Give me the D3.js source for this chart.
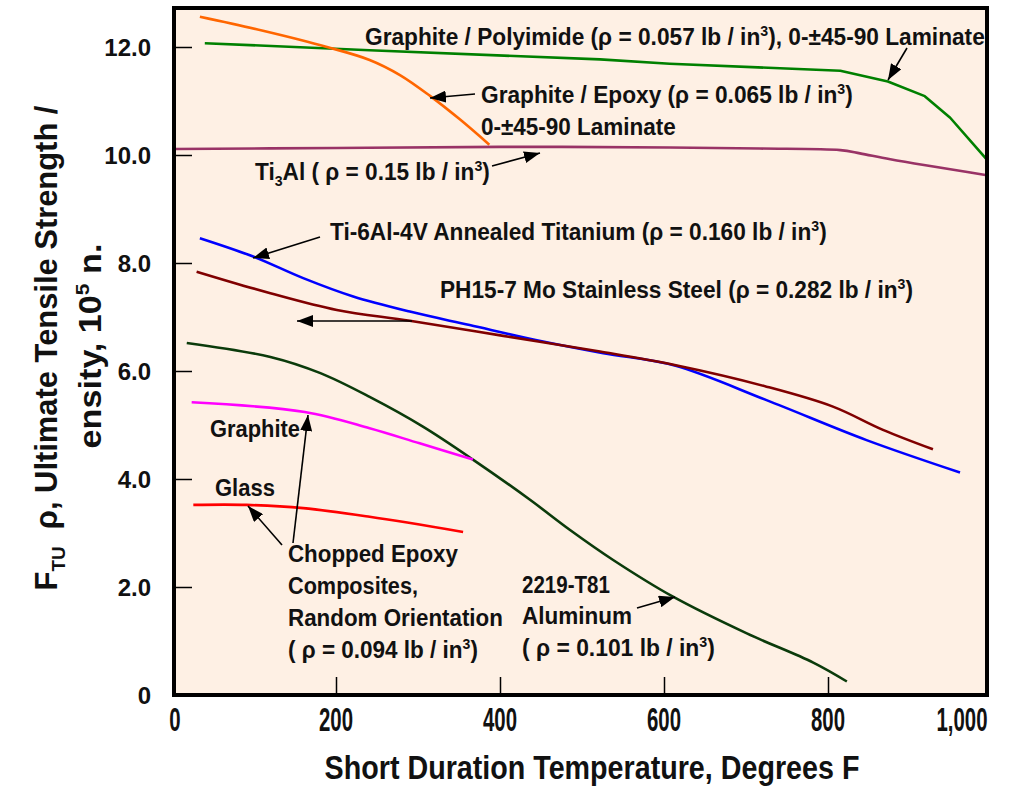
<!DOCTYPE html>
<html><head><meta charset="utf-8">
<script src="https://cdn.jsdelivr.net/npm/d3@7"></script>
<style>body{margin:0;background:#fff}</style>
</head><body>
<svg id="c" width="1018" height="792"></svg>
<script>
// ---------- data ----------
const xTicks = [0, 200, 400, 600, 800, 1000];
const xTickLabels = ["0", "200", "400", "600", "800", "1,000"];
const yTicks = [0, 2, 4, 6, 8, 10, 12];
const yTickLabels = ["0", "2.0", "4.0", "6.0", "8.0", "10.0", "12.0"];

const polyimideT = [40, 241, 522, 607, 815, 873, 918, 949, 994];
const polyimideV = [12.07, 11.94, 11.77, 11.69, 11.56, 11.36, 11.09, 10.69, 9.91];

const epoxyT = [34, 111, 189, 241, 278, 315, 351, 387];
const epoxyV = [12.56, 12.30, 12.00, 11.76, 11.48, 11.09, 10.66, 10.19];

const ti3alT = [2, 200, 400, 607, 717, 815, 839, 876, 992];
const ti3alV = [10.11, 10.13, 10.15, 10.14, 10.12, 10.09, 10.03, 9.92, 9.63];

const ti64T = [34, 99, 160, 221, 290, 363, 445, 526, 613, 725, 847, 961];
const ti64V = [8.46, 8.12, 7.72, 7.38, 7.10, 6.85, 6.57, 6.33, 6.10, 5.46, 4.72, 4.12];

const ph157T = [30, 120, 201, 290, 404, 522, 613, 725, 806, 867, 928];
const ph157V = [7.84, 7.44, 7.13, 6.93, 6.65, 6.36, 6.11, 5.71, 5.34, 4.91, 4.55];

const alumT = [18, 120, 181, 241, 306, 367, 437, 485, 538, 611, 701, 782, 823];
const alumV = [6.52, 6.26, 5.96, 5.52, 4.97, 4.36, 3.61, 3.06, 2.50, 1.82, 1.14, 0.60, 0.25];

const chopGraphiteT = [24, 162, 241, 302, 367];
const chopGraphiteV = [5.42, 5.24, 4.94, 4.66, 4.36];

const chopGlassT = [26, 91, 160, 241, 355];
const chopGlassV = [3.52, 3.52, 3.46, 3.30, 3.02];

const seriesNames = ["polyimide", "epoxy", "ti3al", "ti64", "ph157", "alum", "chopGraphite", "chopGlass"];
const seriesColors = ["#008000", "#FF6600", "#993366", "#0000FF", "#800000", "#0B3B0B", "#FF00FF", "#FF0000"];
const seriesT = [polyimideT, epoxyT, ti3alT, ti64T, ph157T, alumT, chopGraphiteT, chopGlassT];
const seriesV = [polyimideV, epoxyV, ti3alV, ti64V, ph157V, alumV, chopGraphiteV, chopGlassV];

// ---------- layout ----------
const svg = d3.select("#c");
const x = d3.scaleLinear().domain([0, 1000]).range([172, 992]);
const y = d3.scaleLinear().domain([0, 12]).range([695, 47]);
const frame = {l: 174, r: 987, t: 8, b: 695};
const SANS = "'Liberation Sans',Arial,Helvetica,sans-serif";

svg.append("rect").attr("x", frame.l).attr("y", frame.t)
  .attr("width", frame.r - frame.l).attr("height", frame.b - frame.t)
  .attr("fill", "#FEF0E4");

svg.append("clipPath").attr("id", "clip").append("rect")
  .attr("x", frame.l).attr("y", frame.t).attr("width", frame.r - frame.l).attr("height", frame.b - frame.t);

// inward ticks
const yAxis = d3.axisRight(y).tickValues(yTicks.slice(1)).tickSize(18).tickFormat("");
svg.append("g").attr("transform", `translate(${frame.l},0)`).call(yAxis)
  .call(g => g.select(".domain").remove())
  .call(g => g.selectAll("line").attr("stroke", "#000").attr("stroke-width", 1.5));
const xAxis = d3.axisTop(x).tickValues(xTicks.slice(1, 5)).tickSize(18).tickFormat("");
svg.append("g").attr("transform", `translate(0,${frame.b})`).call(xAxis)
  .call(g => g.select(".domain").remove())
  .call(g => g.selectAll("line").attr("stroke", "#000").attr("stroke-width", 1.5));

// series
const line = d3.line().x(d => x(d[0])).y(d => y(d[1])).curve(d3.curveCatmullRom.alpha(0.5));
const lineLin = d3.line().x(d => x(d[0])).y(d => y(d[1]));
const gLines = svg.append("g").attr("clip-path", "url(#clip)");
seriesNames.forEach((n, i) => {
  const pts = seriesT[i].map((t, j) => [t, seriesV[i][j]]);
  gLines.append("path").datum(pts)
    .attr("d", n === "polyimide" ? lineLin : line)
    .attr("fill", "none").attr("stroke", seriesColors[i]).attr("stroke-width", 2.6)
    .attr("stroke-linejoin", "round");
});

// frame
svg.append("rect").attr("x", frame.l).attr("y", frame.t)
  .attr("width", frame.r - frame.l).attr("height", frame.b - frame.t)
  .attr("fill", "none").attr("stroke", "#000").attr("stroke-width", 4);

// y tick labels
svg.append("g").selectAll("text").data(yTicks).join("text")
  .attr("x", 151).attr("y", d => y(d)).attr("dy", "0.36em")
  .attr("text-anchor", "end").attr("font-family", SANS)
  .attr("font-weight", "bold").attr("font-size", 24).attr("fill", "#111")
  .text((d, i) => yTickLabels[i]);

// condensed text helper: builds runs inside a horizontally scaled group
function ctext(px, py, runs, opts) {
  const o = Object.assign({size: 24, width: null, sx: null, anchor: "start", rotate: 0}, opts || {});
  const g = svg.append("g");
  const t = g.append("text").attr("x", 0).attr("y", 0).attr("text-anchor", o.anchor)
    .attr("font-family", SANS).attr("font-weight", "bold").attr("font-size", o.size).attr("fill", "#111");
  const small = Math.round(o.size * 0.62);
  runs.forEach(r => {
    const s = typeof r === "string" ? [r, ""] : r;
    const sp = t.append("tspan").text(s[0]);
    if (s[1] === "sup") sp.attr("font-size", small).attr("dy", -o.size * 0.38);
    if (s[1] === "sub") sp.attr("font-size", small).attr("dy", o.size * 0.25);
    if (s[1] === "back") sp.attr("dy", s[2] * o.size);
  });
  const w = t.node().getComputedTextLength();
  const sx = o.sx != null ? o.sx : (o.width ? o.width / w : 0.8);
  g.attr("transform", `translate(${px},${py}) rotate(${o.rotate}) scale(${sx},1)`);
  return g;
}

// x tick labels
xTicks.forEach((d, i) => {
  const px = i === 5 ? 962 : x(d) + (i === 0 ? 3 : 0);
  ctext(px, 731, [xTickLabels[i]], {size: 34, sx: 0.6, anchor: "middle"});
});

// axis titles
ctext(592, 779, ["Short Duration Temperature, Degrees F"], {size: 33, width: 535, anchor: "middle"});
ctext(57, 348, ["F", ["TU", "sub"], ["\u00a0\u00a0ρ, Ultimate Tensile Strength /", "back", -0.25]],
  {size: 31, width: 485, anchor: "middle", rotate: -90});
ctext(101, 346, ["ensity, 10", ["5", "sup"], [" n.", "back", 0.38]],
  {size: 31, width: 205, anchor: "middle", rotate: -90});

// annotations
const sup3 = [["3", "sup"], [")", "back", 0.38]];
ctext(365, 45, ["Graphite / Polyimide (ρ = 0.057 lb / in", ...sup3, ", 0-±45-90 Laminate"], {width: 620});
ctext(481, 103, ["Graphite / Epoxy (ρ = 0.065 lb / in", ...sup3], {width: 372});
ctext(481, 135, ["0-±45-90 Laminate"], {width: 195});
ctext(255, 180, ["Ti", ["3", "sub"], ["Al ( ρ = 0.15 lb / in", "back", -0.25], ...sup3], {width: 235});
ctext(330, 240, ["Ti-6Al-4V Annealed Titanium (ρ = 0.160 lb / in", ...sup3], {width: 497});
ctext(440, 298, ["PH15-7 Mo Stainless Steel (ρ = 0.282 lb / in", ...sup3], {width: 473});
ctext(210, 437, ["Graphite"], {width: 90});
ctext(215, 496, ["Glass"], {width: 60});
ctext(288, 562, ["Chopped Epoxy"], {width: 170});
ctext(288, 594, ["Composites,"], {width: 130});
ctext(288, 626, ["Random Orientation"], {width: 215});
ctext(288, 658, ["( ρ = 0.094 lb / in", ...sup3], {width: 190});
ctext(522, 593, ["2219-T81"], {width: 88});
ctext(522, 624, ["Aluminum"], {width: 110});
ctext(522, 656, ["( ρ = 0.101 lb / in", ...sup3], {width: 193});

// arrows
svg.append("defs").append("marker").attr("id", "ah")
  .attr("viewBox", "0 0 16 12").attr("refX", 16).attr("refY", 6)
  .attr("markerWidth", 16).attr("markerHeight", 12).attr("markerUnits", "userSpaceOnUse")
  .attr("orient", "auto")
  .append("path").attr("d", "M0,0 L16,6 L0,12 Z").attr("fill", "#000");
const arrows = [
  [475, 94, 430, 98], [492, 166, 540, 153], [320, 237, 253, 258], [412, 321, 297, 321],
  [907, 48, 888, 80], [282, 545, 248, 506], [293, 543, 308, 415], [637, 608, 675, 597]
];
arrows.forEach(a => svg.append("line").attr("x1", a[0]).attr("y1", a[1]).attr("x2", a[2]).attr("y2", a[3])
  .attr("stroke", "#000").attr("stroke-width", 1.6).attr("marker-end", "url(#ah)"));
</script>
</body></html>
